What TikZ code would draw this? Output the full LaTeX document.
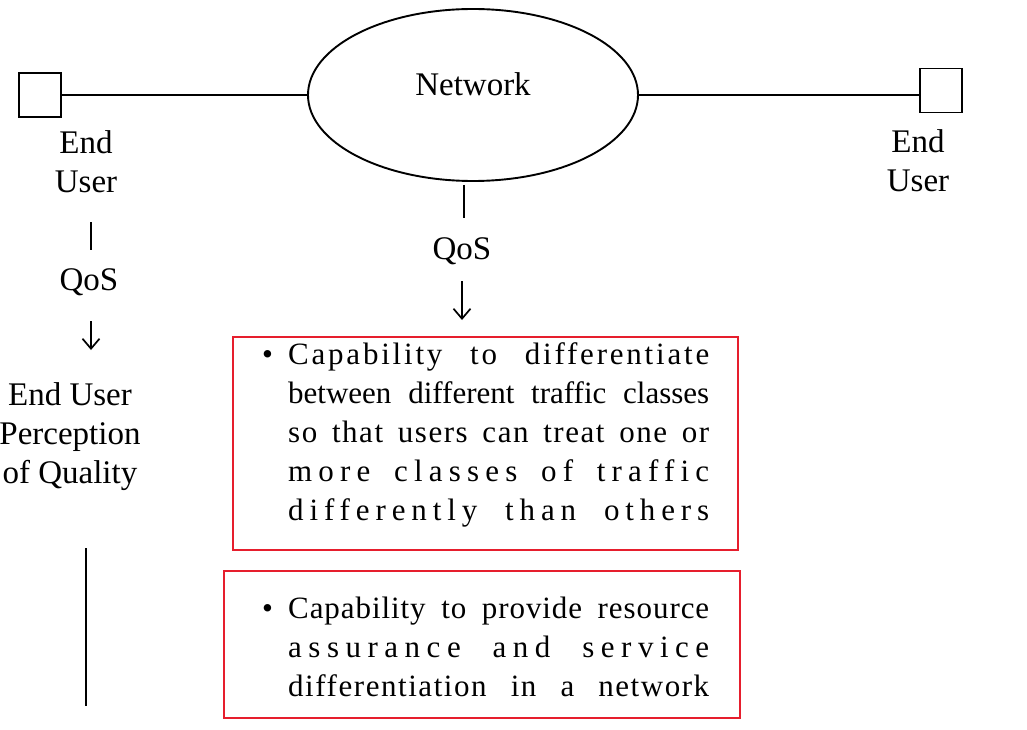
\documentclass[tikz,border=0pt]{standalone}
\usepackage{fontspec}
\setmainfont{Liberation Serif}
\usetikzlibrary{shapes.geometric,arrows.meta}
\definecolor{boxred}{RGB}{230,30,45}
\newcommand{\bline}[2][0]{\makebox[421pt][s]{\addfontfeature{LetterSpace=#1}#2}}
\begin{document}
\begin{tikzpicture}[x=1pt,y=-1pt,
  lbl/.style={font=\fontsize{33}{39}\selectfont, align=center, inner sep=0pt},
  term/.style={draw, line width=1.9pt, minimum width=42pt, minimum height=44pt, inner sep=0pt},
  link/.style={line width=1.9pt},
  arr/.style={link, -{Straight Barb[length=10pt,width=17pt,line width=1.7pt]}},
  redbox/.style={draw=boxred, line width=2.8pt},
  btxt/.style={font=\fontsize{31}{39}\selectfont, inner sep=0pt, anchor=base west}]
\useasboundingbox (0,0) rectangle (1027,730);
\fill[white] (0,0) rectangle (1027,730);
% network
\node[draw, ellipse, line width=1.9pt, minimum width=330pt, minimum height=172pt] (net) at (473,95) {};
\node[lbl] (netl) at (473,84) {Network};
\node[term] (uL) at (40,95) {};
\node[term] (uR) at (941,90.5) {};
\draw[link] (uL.east) -- (net.west);
\draw[link] (net.east) -- (net.east -| uR.west);
% end user labels
\node[lbl] (euL) at (86,162) {End\\User};
\node[lbl] (euR) at (918,161) {End\\User};
% left chain
\node[lbl] (qosL) at (89,282) {QoS};
\node[lbl] (perc) at (70,437) {End User\\Perception\\of Quality};
\coordinate (l1a) at (91,222); \coordinate (l1b) at (91,250);
\coordinate (l2a) at (91,321); \coordinate (l2b) at (91,350);
\draw[link] (l1a) -- (l1b);
\draw[arr] (l2a) -- (l2b);
\coordinate (lineStart) at (86,548);
\coordinate (lineEnd) at (86,706);
\draw[link] (lineStart) -- (lineEnd);
% middle chain
\node[lbl] (qosM) at (462,251) {QoS};
\coordinate (m1a) at (464,185); \coordinate (m1b) at (464,218);
\coordinate (m2a) at (462,281); \coordinate (m2b) at (462,320);
\draw[link] (m1a) -- (m1b);
\draw[arr] (m2a) -- (m2b);
% box 1
\draw[redbox] (233,337) rectangle (738,550);
\node[btxt] (b1) at (262,364) {\textbullet};
\node[btxt] (t1a) at (288,364) {\bline[9]{Capability to differentiate}};
\node[btxt] (t1b) at (288,403) {\bline{between different traffic classes}};
\node[btxt] (t1c) at (288,442) {\bline[5]{so that users can treat one or}};
\node[btxt] (t1d) at (288,481) {\bline[20]{more classes of traffic}};
\node[btxt] (t1e) at (288,520) {\bline[19]{differently than others}};
% box 2
\draw[redbox] (224,571) rectangle (740,718);
\node[btxt] (b2) at (262,618) {\textbullet};
\node[btxt] (t2a) at (288,618) {\bline[3]{Capability to provide resource}};
\node[btxt] (t2b) at (288,657) {\bline[21]{assurance and service}};
\node[btxt] (t2c) at (288,696) {\bline[5]{differentiation in a network}};
\end{tikzpicture}
\end{document}
